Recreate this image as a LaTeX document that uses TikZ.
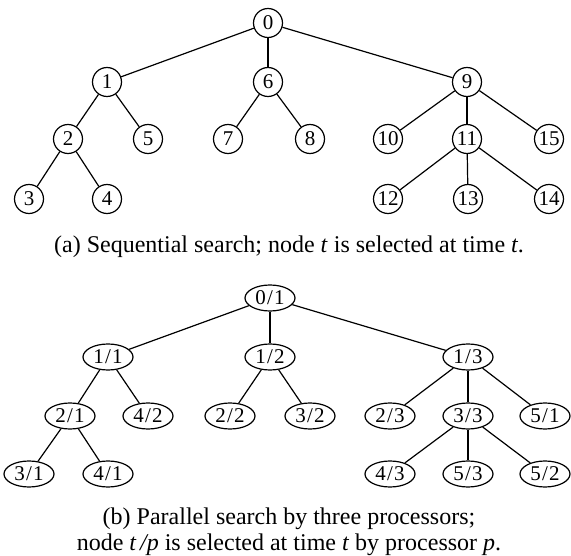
\documentclass[tikz,border=0pt]{standalone}
\usepackage{fontspec}
\setmainfont{Liberation Serif}
\usetikzlibrary{shapes.geometric}
\begin{document}
\begin{tikzpicture}[x=1pt,y=-1pt,
  cnode/.style={circle,draw,line width=1.2pt,minimum size=29pt,inner sep=0pt,font=\fontsize{21}{21}\selectfont},
  enode/.style={ellipse,draw,line width=1.2pt,minimum width=50pt,minimum height=26pt,inner sep=0pt,font=\fontsize{21}{21}\selectfont\addfontfeatures{LetterSpace=6}},
  edge/.style={line width=1.2pt},
  captext/.style={font=\fontsize{24}{26}\selectfont,align=center}]
\useasboundingbox (0,0) rectangle (571,556);
% (a)
\node[cnode] (n0) at (268,23) {0};
\node[cnode] (n1) at (107,82) {1};
\node[cnode] (n6) at (268,82) {6};
\node[cnode] (n9) at (467,82) {9};
\node[cnode] (n2) at (68,139) {2};
\node[cnode] (n5) at (148,139) {5};
\node[cnode] (n7) at (228,139) {7};
\node[cnode] (n8) at (310,139) {8};
\node[cnode] (n10) at (388,139) {10};
\node[cnode] (n11) at (467,139) {11};
\node[cnode] (n15) at (549,139) {15};
\node[cnode] (n3) at (29,199) {3};
\node[cnode] (n4) at (107,199) {4};
\node[cnode] (n12) at (388,199) {12};
\node[cnode] (n13) at (468,199) {13};
\node[cnode] (n14) at (549,199) {14};
\foreach \a/\b in {n0/n1,n0/n6,n0/n9,n1/n2,n1/n5,n6/n7,n6/n8,n9/n10,n9/n11,n9/n15,n2/n3,n2/n4,n11/n12,n11/n13,n11/n14}
  \draw[edge] (\a) -- (\b);
\node[captext] (capa) at (289,247) {(a) Sequential search; node \textit{t} is selected at time \textit{t}.};
% (b)
\node[enode] (b01) at (270,298) {0/1};
\node[enode] (b11) at (108,357) {1/1};
\node[enode] (b12) at (270,357) {1/2};
\node[enode] (b13) at (468,357) {1/3};
\node[enode] (b21) at (70,416) {2/1};
\node[enode] (b42) at (148,416) {4/2};
\node[enode] (b22) at (230,416) {2/2};
\node[enode] (b32) at (310,416) {3/2};
\node[enode] (b23) at (390,416) {2/3};
\node[enode] (b33) at (468,416) {3/3};
\node[enode] (b51) at (545,416) {5/1};
\node[enode] (b31) at (29,474) {3/1};
\node[enode] (b41) at (108,474) {4/1};
\node[enode] (b43) at (390,474) {4/3};
\node[enode] (b53) at (468,474) {5/3};
\node[enode] (b52) at (545,474) {5/2};
\foreach \a/\b in {b01/b11,b01/b12,b01/b13,b11/b21,b11/b42,b12/b22,b12/b32,b13/b23,b13/b33,b13/b51,b21/b31,b21/b41,b33/b43,b33/b53,b33/b52}
  \draw[edge] (\a) -- (\b);
\node[captext] (capb) at (289,532) {(b) Parallel search by three processors;\\node \textit{t\,/p} is selected at time \textit{t} by processor \textit{p}.};
\end{tikzpicture}
\end{document}
